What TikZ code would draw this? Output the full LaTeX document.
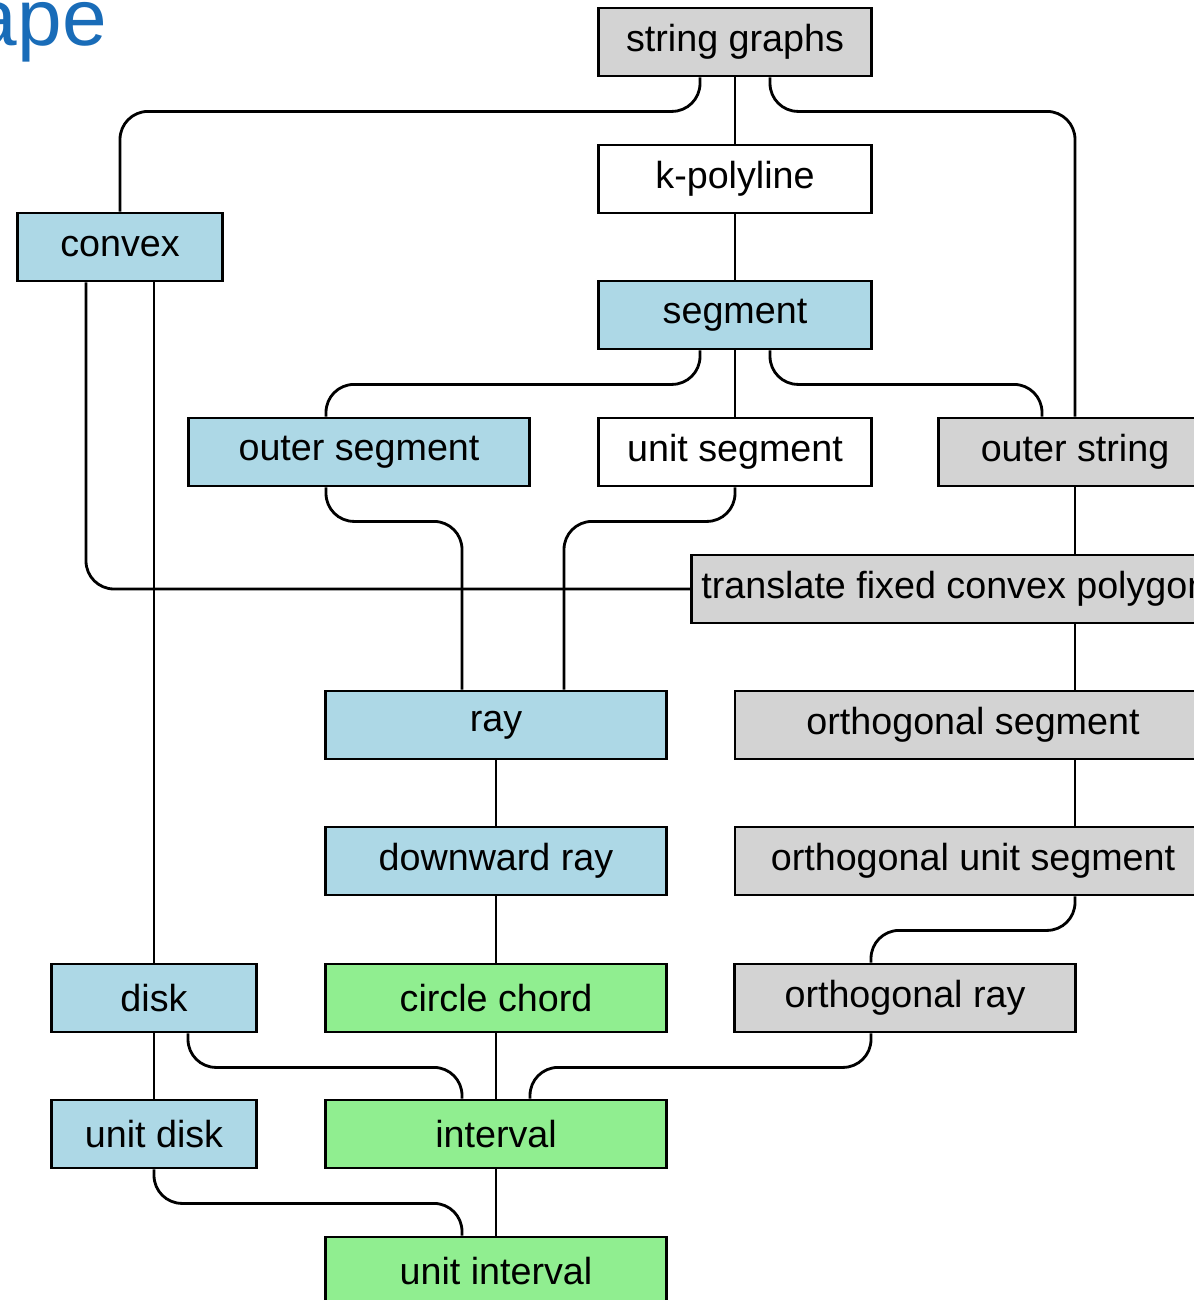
\documentclass[tikz,border=0pt]{standalone}
\usepackage{fontspec}
\setmainfont{Liberation Sans}
\usetikzlibrary{calc}
\definecolor{boxblue}{RGB}{173,216,230}
\definecolor{boxgreen}{RGB}{144,238,144}
\definecolor{boxgray}{RGB}{211,211,211}
\definecolor{titleblue}{RGB}{25,108,184}
\tikzset{
  box/.style={draw, line width=2pt, minimum height=1.7cm, inner sep=0.25cm,
    font=\fontsize{26.8pt}{32pt}\selectfont},
  w3/.style={minimum width=5.125cm},
  w4/.style={minimum width=6.825cm},
  w5/.style={minimum width=8.525cm},
  w7/.style={minimum width=11.9cm},
  bluebox/.style={box, fill=boxblue},
  greenbox/.style={box, fill=boxgreen},
  graybox/.style={box, fill=boxgray},
  whitebox/.style={box, fill=white},
  link/.style={line width=2pt, rounded corners=0.7cm}
}
\begin{document}
\begin{tikzpicture}[x=0.025cm, y=-0.025cm]
  \clip (0,0) rectangle (1194,1300);
  \node[anchor=base east, inner sep=0pt, text=titleblue,
    font=\fontsize{57pt}{60pt}\selectfont] (title) at (107,46) {ape};
  % classes
  \node[graybox, w4] (sg) at (735,42) {string graphs};
  \node[whitebox, w4] (kp) at (735,179) {k-polyline};
  \node[bluebox, w3] (convex) at (120,247) {convex};
  \node[bluebox, w4] (seg) at (735,315) {segment};
  \node[bluebox, w5] (outseg) at (359,452) {outer segment};
  \node[whitebox, w4] (unitseg) at (735,452) {unit segment};
  \node[graybox, w4] (outstr) at (1075,452) {outer string};
  \node[graybox, anchor=west] (tfcp) at (690,589) {translate fixed convex polygon};
  \node[bluebox, w5] (ray) at (496,725) {ray};
  \node[graybox, w7] (orthseg) at (973,725) {orthogonal segment};
  \node[bluebox, w5] (dray) at (496,861) {downward ray};
  \node[graybox, w7] (orthuseg) at (973,861) {orthogonal unit segment};
  \node[bluebox, w3] (disk) at (154,998) {disk};
  \node[greenbox, w5] (chord) at (496,998) {circle chord};
  \node[graybox, w5] (orthray) at (905,998) {orthogonal ray};
  \node[bluebox, w3] (udisk) at (154,1134) {unit disk};
  \node[greenbox, w5] (interval) at (496,1134) {interval};
  \node[greenbox, w5] (uinterval) at (496,1271) {unit interval};
  % inclusions
  \draw[link] (sg) -- (kp);
  \draw[link] ($(sg.south)+(-35,0)$) -- ++(0,34) -| (convex.north);
  \draw[link] ($(sg.south)+(35,0)$) -- ++(0,34) -| (outstr.north);
  \draw[link] (kp) -- (seg);
  \draw[link] (seg) -- (unitseg);
  \draw[link] ($(seg.south)+(-35,0)$) -- ++(0,34) -| ($(outseg.north)+(-33,0)$);
  \draw[link] ($(seg.south)+(35,0)$) -- ++(0,34) -| ($(outstr.north)+(-33,0)$);
  \draw[link] ($(outseg.south)+(-33,0)$) -- ++(0,34) -| ($(ray.north)+(-34,0)$);
  \draw[link] (unitseg.south) -- ++(0,34) -| ($(ray.north)+(68,0)$);
  \draw[link] ($(convex.south)+(-34,0)$) |- (tfcp.west);
  \draw[link] ($(convex.south)+(34,0)$) -- (disk.north);
  \draw[link] (outstr.south) -- (tfcp.north -| outstr);
  \draw[link] (tfcp.south -| outstr) -- (orthseg.north -| outstr);
  \draw[link] (orthseg.south -| outstr) -- (orthuseg.north -| outstr);
  \draw[link] (orthuseg.south -| outstr) -- ++(0,34) -| ($(orthray.north)+(-34,0)$);
  \draw[link] (ray) -- (dray);
  \draw[link] (dray) -- (chord);
  \draw[link] (chord) -- (interval);
  \draw[link] (interval) -- (uinterval);
  \draw[link] (disk) -- (udisk);
  \draw[link] ($(disk.south)+(34,0)$) -- ++(0,34) -| ($(interval.north)+(-34,0)$);
  \draw[link] ($(orthray.south)+(-34,0)$) -- ++(0,34) -| ($(interval.north)+(34,0)$);
  \draw[link] (udisk.south) -- ++(0,34) -| ($(uinterval.north)+(-34,0)$);
\end{tikzpicture}
\end{document}
